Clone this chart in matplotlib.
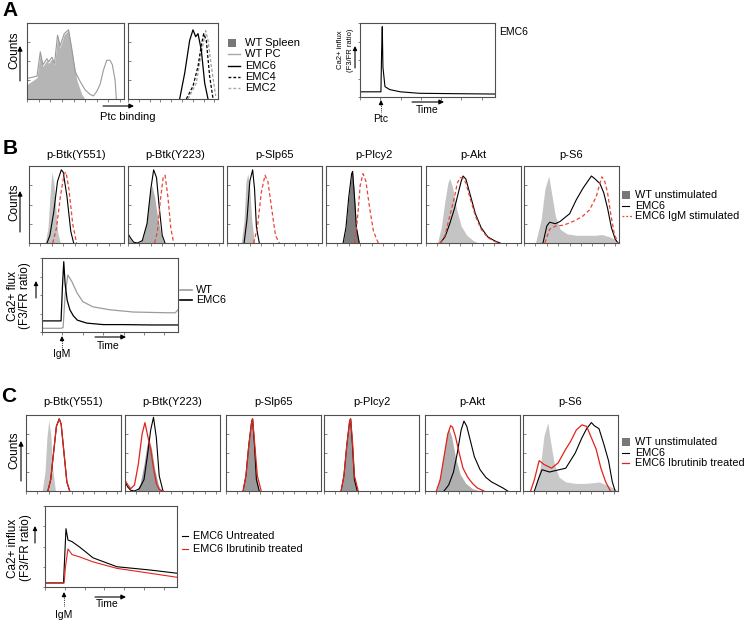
import matplotlib
matplotlib.use("Agg")
import matplotlib.pyplot as plt
from matplotlib.patches import FancyArrowPatch, Rectangle
from matplotlib.lines import Line2D

plt.rcParams['font.family'] = ['Liberation Sans', 'DejaVu Sans']

W, H = 745, 621

# ---------------- DATA (x: % of axis, y: % of max) ----------------
# Panel A: Ptc binding histograms
A1_SPLEEN_X = [0, 10.3, 13.7, 16.4, 20.5, 22.3, 25.7, 28.4, 31.5, 34.2, 38.4, 42.8, 46.2, 51.4, 56.5, 59.9]
A1_SPLEEN_Y = [19, 28, 60, 43, 51, 47, 53, 45, 82, 68, 85, 90, 64, 25, 6, 0]
A1_PC_X = [0, 10.3, 13.7, 16.4, 20.5, 22.3, 25.7, 28.4, 31.5, 34.2, 38.4, 42.8, 46.2, 49.7, 54.8, 59.9,
           65.1, 68.5, 71.9, 75.3, 78.8, 82.2, 85.6, 88.0, 90.8, 92.1]
A1_PC_Y = [27, 30, 62, 45, 53, 49, 55, 47, 84, 70, 86, 91, 66, 36, 23, 12, 6, 4, 10, 19, 38, 51, 51, 45, 25, 0]
A2_EMC6_X = [57.4, 63, 68.5, 72.2, 75.2, 77.8, 81.5, 85.2, 88.9]
A2_EMC6_Y = [0, 34, 77, 91, 82, 86, 64, 21, 0]
A2_EMC4_X = [64.8, 72.2, 77.8, 81.5, 84.1, 87, 90.7, 94.4]
A2_EMC4_Y = [0, 17, 43, 71, 86, 77, 30, 1]
A2_EMC2_X = [66.7, 75.9, 81.5, 86.3, 88.9, 92.6, 97.4]
A2_EMC2_Y = [0, 21, 60, 90, 77, 43, 4]
A3_TIME = [0, 15.5, 16, 16.5, 17, 18.5, 22, 30, 44, 70, 100]
A3_CA = [7, 7, 60, 95, 40, 14, 10, 7, 5, 4.5, 4]
A_LEGEND = ['WT Spleen', 'WT PC', 'EMC6', 'EMC4', 'EMC2']

# Panel B / C titles
MARKERS = ['p-Btk(Y551)', 'p-Btk(Y223)', 'p-Slp65', 'p-Plcy2', 'p-Akt', 'p-S6']

# Panel B histograms: (WT unstimulated, EMC6, EMC6 IgM stimulated)
B_WT_X = [
    [17, 20, 22, 24, 26, 28, 30, 33],
    [0, 3, 6, 12, 16, 20, 23, 25, 28, 31, 35, 38],
    [15, 18, 20, 22, 24, 26, 29],
    [18, 21, 24, 27, 28, 30, 32, 35],
    [12, 16, 20, 23, 25, 28, 32, 37, 43, 50, 55],
    [12, 18, 22, 26, 29, 33, 38, 45, 55, 65, 75, 82, 90, 97, 100],
]
B_WT_Y = [
    [0, 20, 60, 92, 80, 50, 15, 0],
    [9, 4, 0, 0, 8, 30, 65, 75, 60, 35, 10, 0],
    [0, 30, 80, 90, 70, 30, 0],
    [0, 20, 60, 90, 92, 60, 20, 0],
    [0, 20, 55, 78, 84, 72, 45, 22, 10, 3, 0],
    [0, 30, 70, 87, 65, 35, 18, 12, 10, 10, 10, 11, 8, 4, 0],
]
B_EMC6_X = [
    [19, 22, 26, 30, 34, 36, 40, 44, 47],
    [0, 3, 6, 10, 15, 20, 24, 27, 30, 33, 36, 39],
    [18, 21, 24, 27, 29, 31, 34],
    [18, 21, 24, 27, 28, 30, 32, 35],
    [15, 20, 25, 30, 34, 37, 39, 42, 46, 52, 58, 65, 72, 78],
    [20, 24, 27, 33, 38, 48, 55, 62, 71, 75, 80, 84, 88, 92, 96, 99],
]
B_EMC6_Y = [
    [0, 10, 40, 80, 95, 92, 60, 15, 0],
    [12, 6, 1, 0, 3, 25, 70, 95, 85, 45, 10, 0],
    [0, 30, 80, 95, 70, 20, 0],
    [0, 20, 60, 90, 93, 60, 20, 0],
    [0, 8, 25, 45, 65, 80, 87, 83, 65, 38, 20, 8, 3, 0],
    [0, 22, 27, 25, 28, 38, 56, 71, 87, 83, 77, 65, 45, 20, 5, 0],
]
B_IGM_X = [
    [25, 29, 33, 37, 39, 42, 46, 50],
    [28, 31, 34, 37, 39, 42, 45, 48],
    [28, 32, 36, 40, 43, 47, 51, 55],
    [30, 33, 36, 39, 42, 46, 50, 55],
    [15, 20, 25, 30, 33, 36, 39, 42, 46, 52, 58, 65, 72, 78],
    [22, 27, 33, 41, 48, 55, 62, 69, 76, 80, 82, 85, 88, 91, 95, 99],
]
B_IGM_Y = [
    [0, 20, 60, 90, 92, 70, 25, 0],
    [0, 15, 55, 85, 88, 60, 20, 0],
    [0, 20, 65, 88, 80, 45, 10, 0],
    [0, 30, 75, 90, 80, 45, 15, 0],
    [0, 10, 35, 60, 78, 85, 84, 78, 60, 35, 18, 7, 2, 0],
    [0, 18, 22, 23, 26, 30, 35, 43, 60, 78, 86, 80, 65, 40, 12, 0],
]
B_LEGEND = ['WT unstimulated', 'EMC6', 'EMC6 IgM stimulated']

# Panel B calcium flux
B_CA_TIME_EMC6 = [0, 14, 15, 16, 17, 18.5, 20.5, 23, 26, 33, 45, 60, 80, 100]
B_CA_EMC6 = [15, 15, 60, 95, 65, 43, 30, 22, 16, 12, 10, 10, 9.5, 9.5]
B_CA_TIME_WT = [0, 14, 15.5, 17, 19, 22, 25.7, 30, 37.5, 50, 67, 92, 98, 100]
B_CA_WT = [5, 5, 6, 50, 77, 68, 53, 41, 34, 30, 27, 26, 26, 30]
B_CA_LEGEND = ['WT', 'EMC6']

# Panel C histograms: (WT unstimulated, EMC6, EMC6 Ibrutinib treated)
C_WT_X = [
    [17, 20, 22, 24, 26, 28, 31],
    [12, 16, 20, 23, 25, 28, 31, 35, 38],
    [18, 21, 24, 27, 28, 30, 32, 35],
    [18, 21, 24, 27, 28, 30, 32, 35],
    [12, 16, 20, 23, 25, 28, 32, 37, 43, 50, 58],
    [12, 18, 22, 26, 29, 33, 38, 45, 55, 65, 75, 80, 88, 95, 100],
]
C_WT_Y = [
    [0, 25, 70, 93, 75, 30, 0],
    [0, 10, 35, 60, 70, 55, 30, 8, 0],
    [0, 20, 60, 90, 94, 60, 20, 0],
    [0, 20, 60, 90, 94, 60, 20, 0],
    [0, 20, 50, 75, 82, 72, 45, 22, 10, 3, 0],
    [0, 30, 72, 90, 65, 35, 18, 12, 10, 10, 11, 12, 8, 4, 0],
]
C_EMC6_X = [
    [23, 26, 29, 32, 35, 37, 40, 43, 46],
    [0, 3, 6, 10, 15, 20, 24, 27, 30, 33, 36, 40],
    [18, 21, 24, 27, 28, 30, 32, 35],
    [18, 21, 24, 27, 28, 30, 32, 35],
    [20, 25, 30, 34, 38, 41, 44, 48, 52, 58, 64, 70, 76, 82, 87],
    [12, 16, 20, 28, 38, 45, 55, 62, 67, 72, 75, 80, 85, 90, 94, 97],
]
C_EMC6_Y = [
    [0, 15, 50, 85, 95, 88, 50, 12, 0],
    [12, 5, 1, 0, 3, 15, 50, 80, 97, 70, 20, 0],
    [0, 20, 60, 92, 95, 60, 15, 0],
    [0, 20, 60, 92, 95, 60, 15, 0],
    [0, 8, 25, 50, 80, 92, 85, 65, 45, 28, 18, 12, 8, 4, 0],
    [0, 15, 28, 25, 28, 30, 50, 70, 82, 90, 86, 82, 62, 40, 12, 0],
]
C_IBR_X = [
    [23, 26, 29, 32, 35, 37, 40, 43, 46],
    [0, 3, 6, 10, 14, 18, 21, 24, 27, 30, 33, 36, 40],
    [18, 21, 24, 27, 28, 30, 33, 37],
    [18, 21, 24, 27, 28, 30, 32, 36],
    [12, 16, 20, 24, 27, 29, 32, 36, 40, 45, 50, 55, 62],
    [8, 12, 17, 22, 30, 37, 45, 50, 56, 62, 67, 72, 77, 82, 87, 92],
]
C_IBR_Y = [
    [0, 15, 50, 85, 95, 88, 50, 12, 0],
    [14, 8, 3, 8, 35, 75, 90, 72, 55, 30, 10, 2, 0],
    [0, 20, 60, 90, 95, 65, 20, 0],
    [0, 20, 60, 92, 95, 65, 20, 0],
    [0, 15, 45, 75, 86, 84, 72, 50, 30, 18, 10, 4, 0],
    [0, 15, 40, 35, 30, 37, 55, 65, 80, 87, 85, 70, 55, 30, 12, 0],
]
C_LEGEND = ['WT unstimulated', 'EMC6', 'EMC6 Ibrutinib treated']

# Panel C calcium flux
C_CA_TIME_UNT = [0, 14, 15, 15.9, 17.4, 20.5, 26.5, 36.4, 54.5, 79.5, 100]
C_CA_UNT = [5, 5, 40, 72, 58, 56, 49, 36, 25, 21, 17]
C_CA_TIME_IBR = [0, 14.5, 15.5, 17.4, 20.5, 26.5, 36.4, 54.5, 79.5, 100]
C_CA_IBR = [5, 5, 25, 47, 40, 37, 31, 23, 17, 12]
C_CA_LEGEND = ['EMC6 Untreated', 'EMC6 Ibrutinib treated']

# ---------------- STYLE / LAYOUT ----------------
RED = '#e2231a'
RED_D = '#e8443a'
SPINE = '#505050'

fig = plt.figure(figsize=(W / 100, H / 100), dpi=100)


def fx(x):
    return x / W


def fy(y):
    return 1 - y / H


def box(x0, y0, x1, y1, ca=False):
    ax = fig.add_axes([x0 / W, 1 - y1 / H, (x1 - x0) / W, (y1 - y0) / H])
    ax.set_xlim(0, 100)
    ax.set_ylim(0, 100)
    for s in ax.spines.values():
        s.set_color(SPINE)
        s.set_linewidth(0.8)
    ax.set_xticks([0, 12, 24, 36, 48, 60, 72, 84, 96])
    ax.set_yticks([0, 25, 50, 75, 100])
    ax.tick_params(axis='both', length=1.8, width=0.5, color=SPINE,
                   labelbottom=False, labelleft=False)
    ax.tick_params(axis='y', direction='out' if ca else 'in')
    ax.tick_params(axis='x', direction='out')
    return ax


def text(x, y, s, size=7.5, ha='center', va='center', **kw):
    fig.text(fx(x), fy(y), s, fontsize=size, ha=ha, va=va, **kw)


def arrow(x0, y0, x1, y1, ms=7, lw=0.8):
    fig.add_artist(FancyArrowPatch((fx(x0), fy(y0)), (fx(x1), fy(y1)),
                                   transform=fig.transFigure, arrowstyle='-|>',
                                   mutation_scale=ms, lw=lw, color='k',
                                   shrinkA=0, shrinkB=0))


def dotted_arrow(x, y_bottom, y_tip):
    fig.add_artist(Line2D([fx(x), fx(x)], [fy(y_bottom), fy(y_tip + 4)],
                          transform=fig.transFigure, color='k', lw=0.6, ls=(0, (1, 1.2))))
    arrow(x, y_tip + 5, x, y_tip, ms=6)


def leg_line(x0, x1, y, **kw):
    fig.add_artist(Line2D([fx(x0), fx(x1)], [fy(y), fy(y)], transform=fig.transFigure, **kw))


def leg_square(x0, y, size, color):
    fig.add_artist(Rectangle((fx(x0), fy(y + size / 2)), size / W, size / H,
                             transform=fig.transFigure, color=color, lw=0))


# ---------------- PANEL A ----------------
text(10, 10, 'A', size=15, weight='bold')
ax = box(27, 23, 124, 99)
ax.fill_between(A1_SPLEEN_X, A1_SPLEEN_Y, color='#b5b5b5', lw=0)
ax.plot(A1_PC_X, A1_PC_Y, color='#9a9a9a', lw=0.8)
ax = box(128, 23, 218, 99)
ax.plot(A2_EMC2_X, A2_EMC2_Y, color='#a0a0a0', lw=0.9, ls=(0, (2.5, 1.5)))
ax.plot(A2_EMC4_X, A2_EMC4_Y, color='k', lw=0.9, ls=(0, (2.5, 1.5)))
ax.plot(A2_EMC6_X, A2_EMC6_Y, color='k', lw=0.9)

text(14, 50, 'Counts', size=8.5, rotation=90)
arrow(20, 81, 20, 46)
arrow(103, 106, 134, 106)
text(128, 117, 'Ptc binding', size=8)

# A legend
ly = [43, 54, 66, 77, 88]
leg_square(228, ly[0], 8, '#777777')
leg_line(228, 240, ly[1], color='#a8a8a8', lw=1.0)
leg_line(228, 240, ly[2], color='k', lw=1.0)
leg_line(228, 240, ly[3], color='k', lw=1.0, ls=(0, (2, 1.5)))
leg_line(228, 240, ly[4], color='#a8a8a8', lw=1.0, ls=(0, (2, 1.5)))
for s, y in zip(A_LEGEND, ly):
    text(245, y, s, size=8, ha='left')

# A3 calcium
ax = box(360, 23, 495, 97, ca=True)
ax.set_xticks([0, 15, 30, 45, 60, 75, 90])
ax.plot(A3_TIME, A3_CA, color='k', lw=0.8)
text(499, 32, 'EMC6', size=7.5, ha='left')
text(341, 50, 'Ca2+ influx', size=5.5, rotation=90)
text(350, 50, '(F3/FR ratio)', size=5.5, rotation=90)
arrow(355, 68, 355, 46, ms=6)
dotted_arrow(381, 112, 100)
text(381, 119, 'Ptc', size=7.5)
arrow(412, 102, 444, 102)
text(427, 110, 'Time', size=7.5)


# ---------------- HISTOGRAM ROWS ----------------
def hist_row(top, bottom, lefts, width, wx, wy, ex, ey, tx, ty, fills, third_style, title_y):
    for i, (l, title) in enumerate(zip(lefts, MARKERS)):
        ax = box(l, top, l + width, bottom)
        ax.fill_between(wx[i], wy[i], color=fills[i], lw=0)
        ax.plot(ex[i], ey[i], color='k', lw=0.8)
        ax.plot(tx[i], ty[i], **third_style)
        text(l + width / 2, title_y, title, size=8)


text(10, 149, 'B', size=15, weight='bold')
B_FILLS = ['#c4c4c4', '#b0b0b0', '#bebebe', '#7e7e7e', '#c4c4c4', '#c4c4c4']
hist_row(166, 243, [29, 128, 227, 326, 426, 524], 95, B_WT_X, B_WT_Y, B_EMC6_X, B_EMC6_Y,
         B_IGM_X, B_IGM_Y, B_FILLS, dict(color=RED_D, lw=0.9, ls=(0, (3, 2))), 155)
text(14, 202, 'Counts', size=8.5, rotation=90)
arrow(20, 232, 20, 191)
leg_square(622, 195, 8, '#777777')
leg_line(622, 629, 206, color='k', lw=0.8)
leg_line(622, 632, 216, color=RED_D, lw=0.9, ls=(0, (1.5, 1.5)))
for s, y in zip(B_LEGEND, [195, 206, 216]):
    text(635, y, s, size=7.8, ha='left')

# B calcium
ax = box(42, 258, 178, 332, ca=True)
ax.set_xticks([0, 15, 30, 45, 60, 75, 90])
ax.plot(B_CA_TIME_WT, B_CA_WT, color='#9c9c9c', lw=0.9)
ax.plot(B_CA_TIME_EMC6, B_CA_EMC6, color='k', lw=0.9)
text(13, 296, 'Ca2+ flux', size=8.5, rotation=90)
text(25, 296, '(F3/FR ratio)', size=8.5, rotation=90)
arrow(36, 298, 36, 281, ms=6)
leg_line(180, 192, 290, color='#9c9c9c', lw=1.2)
leg_line(180, 192, 300, color='k', lw=1.2)
text(196, 290, B_CA_LEGEND[0], size=7.8, ha='left')
text(196, 300, B_CA_LEGEND[1], size=7.8, ha='left')
dotted_arrow(62, 349, 336)
text(62, 354, 'IgM', size=7.5)
arrow(95, 337, 126, 337)
text(108, 346, 'Time', size=7.5)

# ---------------- PANEL C ----------------
text(9, 396, 'C', size=15, weight='bold')
C_FILLS = ['#c4c4c4', '#999999', '#9a9a9a', '#9a9a9a', '#b0b0b0', '#c8c8c8']
hist_row(415, 491, [26, 125, 226, 324, 425, 523], 95, C_WT_X, C_WT_Y, C_EMC6_X, C_EMC6_Y,
         C_IBR_X, C_IBR_Y, C_FILLS, dict(color=RED, lw=0.9), 402)
text(14, 450, 'Counts', size=8.5, rotation=90)
arrow(21, 481, 21, 441)
leg_square(622, 442, 8, '#777777')
leg_line(622, 629, 453, color='k', lw=0.8)
leg_line(622, 629, 463, color=RED, lw=0.9)
for s, y in zip(C_LEGEND, [442, 453, 463]):
    text(635, y, s, size=7.8, ha='left')

# C calcium
ax = box(45, 506, 177, 587, ca=True)
ax.set_xticks([0, 15, 30, 45, 60, 75, 90])
ax.plot(C_CA_TIME_UNT, C_CA_UNT, color='k', lw=0.8)
ax.plot(C_CA_TIME_IBR, C_CA_IBR, color=RED, lw=0.8)
text(13, 548, 'Ca2+ influx', size=8.5, rotation=90)
text(26, 548, '(F3/FR ratio)', size=8.5, rotation=90)
arrow(35, 543, 35, 526, ms=6)
leg_line(182, 188, 536, color='k', lw=0.8)
leg_line(182, 188, 549, color=RED, lw=0.8)
text(193, 536, C_CA_LEGEND[0], size=7.8, ha='left')
text(193, 549, C_CA_LEGEND[1], size=7.8, ha='left')
dotted_arrow(64, 606, 592)
text(64, 615, 'IgM', size=7.5)
arrow(95, 597, 126, 597)
text(107, 604, 'Time', size=7.5)

fig.savefig('out.png', dpi=100)
